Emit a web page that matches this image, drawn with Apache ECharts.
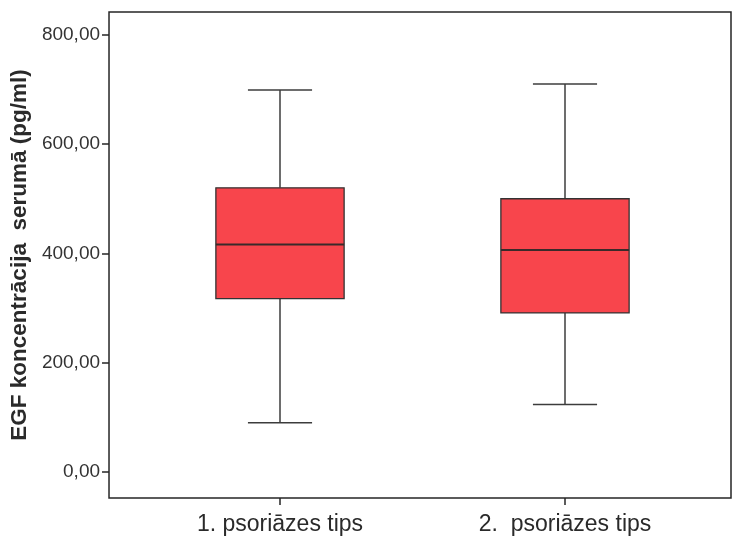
<!DOCTYPE html>
<html>
<head>
<meta charset="utf-8">
<script src="https://cdn.jsdelivr.net/npm/echarts@6/dist/echarts.min.js"></script>
<style>html,body{margin:0;padding:0;background:#fff;}#c{width:733px;height:540px;}</style>
</head>
<body>
<div id="c"></div>
<script>
const categories = ['1. psoriāzes tips', '2.  psoriāzes tips'];
const minVals = [90, 123];
const q1Vals = [317, 291];
const medianVals = [416, 406];
const q3Vals = [520, 500];
const maxVals = [699, 710];
const yTicks = [0, 200, 400, 600, 800];
const yTickLabels = ['0,00', '200,00', '400,00', '600,00', '800,00'];
const yTitle = 'EGF koncentrācija  serumā (pg/ml)';

const font = "'Liberation Sans', Arial, sans-serif";
const yMin = -48, yMax = 842;

const boxData = categories.map((c, i) => [i, minVals[i], q1Vals[i], medianVals[i], q3Vals[i], maxVals[i]]);

const chart = echarts.init(document.getElementById('c'), null, {renderer: 'canvas'});
chart.setOption({
  backgroundColor: '#ffffff',
  animation: false,
  grid: [
    {left: 108, right: 2, top: 12, bottom: 42, show: true, borderColor: '#262626', borderWidth: 1.5, backgroundColor: 'transparent'},
    {left: 137.5, right: 25.5, top: 12, bottom: 42}
  ],
  xAxis: [
    {gridIndex: 0, type: 'category', data: categories, show: false},
    {gridIndex: 1, type: 'category', data: categories, position: 'bottom',
      axisLine: {show: false, onZero: false},
      axisTick: {show: true, alignWithLabel: true, length: 7, lineStyle: {color: '#262626', width: 1.5}},
      axisLabel: {fontFamily: font, fontSize: 23, color: '#2a2a2a', margin: 15}
    }
  ],
  yAxis: [
    {gridIndex: 0, type: 'value', min: yMin, max: yMax,
      name: yTitle, nameLocation: 'middle', nameGap: 76,
      nameTextStyle: {fontFamily: font, fontSize: 22.5, fontWeight: 'bold', color: '#2a2a2a'},
      axisLine: {show: false},
      splitLine: {show: false},
      axisTick: {show: true, length: 7, customValues: yTicks, lineStyle: {color: '#262626', width: 1.5}},
      axisLabel: {fontFamily: font, fontSize: 19, color: '#333', margin: 9, customValues: yTicks,
        formatter: function (v) { const k = yTicks.indexOf(v); return k >= 0 ? yTickLabels[k] : ''; }}
    },
    {gridIndex: 1, type: 'value', min: yMin, max: yMax, show: false, splitLine: {show: false}}
  ],
  series: [{
    type: 'custom',
    xAxisIndex: 1,
    yAxisIndex: 1,
    data: boxData,
    renderItem: function (params, api) {
      const x = api.value(0);
      const cx = api.coord([x, 0])[0];
      const yLo = api.coord([x, api.value(1)])[1];
      const yQ1 = api.coord([x, api.value(2)])[1];
      const yMed = api.coord([x, api.value(3)])[1];
      const yQ3 = api.coord([x, api.value(4)])[1];
      const yHi = api.coord([x, api.value(5)])[1];
      const bw = api.size([1, 0])[0] * 0.45;
      const cw = bw / 2;
      const ws = {stroke: '#3c3c3c', lineWidth: 1.5};
      return {
        type: 'group',
        children: [
          {type: 'line', shape: {x1: cx, y1: yQ3, x2: cx, y2: yHi}, style: ws},
          {type: 'line', shape: {x1: cx, y1: yQ1, x2: cx, y2: yLo}, style: ws},
          {type: 'line', shape: {x1: cx - cw / 2, y1: yHi, x2: cx + cw / 2, y2: yHi}, style: ws},
          {type: 'line', shape: {x1: cx - cw / 2, y1: yLo, x2: cx + cw / 2, y2: yLo}, style: ws},
          {type: 'rect', shape: {x: cx - bw / 2, y: yQ3, width: bw, height: yQ1 - yQ3}, style: {fill: '#F8454C', stroke: '#333', lineWidth: 1.3}},
          {type: 'line', shape: {x1: cx - bw / 2, y1: yMed, x2: cx + bw / 2, y2: yMed}, style: {stroke: '#3a2a2a', lineWidth: 2}}
        ]
      };
    }
  }]
});
</script>
</body>
</html>
